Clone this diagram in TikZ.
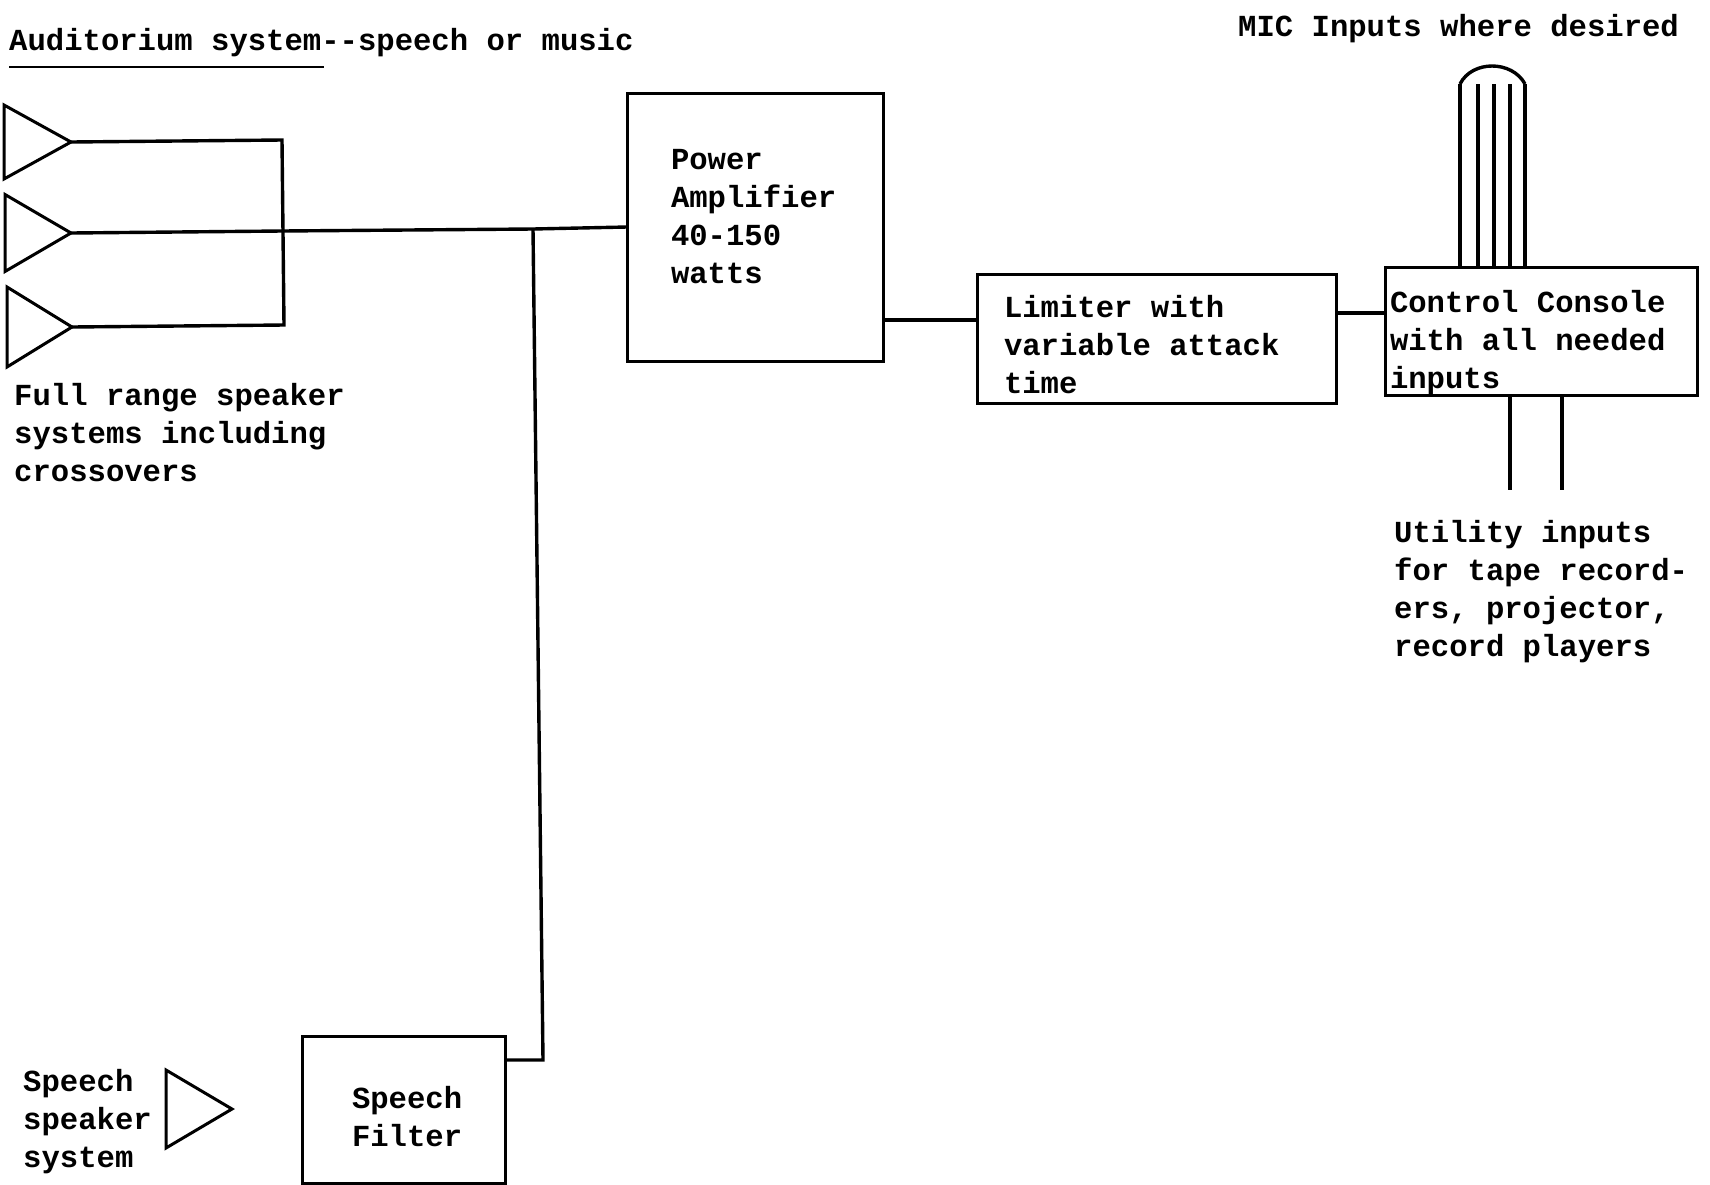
\documentclass[tikz,border=0pt]{standalone}
\usepackage{fontspec}
\newfontfamily\typed{Liberation Mono}
\usetikzlibrary{shapes.geometric}

\begin{document}
\begin{tikzpicture}[
    x=1pt, y=-1pt,
    txt/.style={font=\typed\bfseries\fontsize{30.6}{38}\selectfont, inner sep=0pt, align=left, anchor=north west},
    box/.style={draw, line width=3pt, outer sep=0pt, inner xsep=0pt, inner ysep=0pt, align=left,
      font=\typed\bfseries\fontsize{30.6}{38}\selectfont},
    drop/.style 2 args={execute at begin node={\spaceskip=.6em\relax\rule{0pt}{#1}},
      execute at end node={\rule[-#2]{0pt}{#2}}},
    spk/.style={draw, line width=3pt, isosceles triangle, isosceles triangle stretches, inner sep=0pt,
      outer sep=0pt, anchor=apex},
    wire/.style={line width=3.4pt}
  ]
    \useasboundingbox (0,0) rectangle (1710,1184);
    % headings and captions
    \node[txt] (title) at (9,28) {Auditorium system{-}{-}speech or music};
    \node[txt] (mictxt) at (1238,14) {MIC Inputs where desired};
    \node[txt] (fulltxt) at (14,383) {Full range speaker\\systems including\\crossovers};
    \node[txt] (utiltxt) at (1394,520) {Utility inputs\\for tape record-\\ers, projector,\\record players};
    \node[txt] (speechtxt) at (23,1069) {Speech\\speaker\\system};
    \coordinate (titleend) at (324,67);
    \draw[line width=2.6pt] (title.west |- titleend) -- (titleend);
    % speakers
    \node[spk, minimum width=74pt, minimum height=67pt] (spkone) at (71,142) {};
    \node[spk, minimum width=77pt, minimum height=66pt] (spktwo) at (71,233) {};
    \node[spk, minimum width=80pt, minimum height=65pt] (spkthree) at (72,327) {};
    \node[spk, minimum width=78pt, minimum height=66pt] (spkspeech) at (232,1109) {};
    % boxes
    \node[box, minimum width=256pt, minimum height=268pt, text width=168pt, drop={20pt}{22pt}] (power) at (755,227)
      {Power\\Amplifier\\40-150\\watts};
    \node[box, minimum width=359pt, minimum height=129pt, text width=305pt, drop={34pt}{0pt}] (limiter) at (1156.5,338.5)
      {Limiter with\\variable attack\\time};
    \node[box, minimum width=312pt, minimum height=128pt, text width=302pt, drop={45pt}{0pt}] (console) at (1541,331)
      {Control Console\\with all needed\\inputs};
    \node[box, minimum width=203pt, minimum height=147pt, text width=103pt, drop={37pt}{0pt}] (filter) at (403.5,1109.5)
      {Speech\\Filter};
    % wiring on the speaker side
    \coordinate (busup) at (282,140);
    \coordinate (busmid) at (282,231);
    \coordinate (buslow) at (284,325);
    \coordinate (tee) at (533,229);
    \coordinate (elbow) at (543,1060);
    \draw[wire] (spkone.apex) -- (busup) -- (buslow) -- (spkthree.apex);
    \draw[wire] (spktwo.apex) -- (busmid) -- (tee) -- (power.west);
    \draw[wire] (tee) -- (elbow) -- (filter.east |- elbow);
    % signal chain
    \coordinate (chainone) at (883,320);
    \coordinate (chaintwo) at (1336,313);
    \draw[wire] (chainone) -- (limiter.west |- chainone);
    \draw[wire] (chaintwo) -- (console.west |- chaintwo);
    % mic inputs
    \foreach \micname/\micx in {a/1460,b/1478,c/1494,d/1510,e/1525}{
      \coordinate (mic\micname) at (\micx,84);
      \draw[wire] (mic\micname) -- (mic\micname |- console.north);
    }
    \draw[wire] (mica) .. controls (1472,60) and (1512,60) .. (mice);
    % utility inputs
    \foreach \utilname/\utilx in {a/1510,b/1562}{
      \coordinate (util\utilname) at (\utilx,490);
      \draw[wire] (util\utilname |- console.south) -- (util\utilname);
    }
  \end{tikzpicture}
\end{document}
